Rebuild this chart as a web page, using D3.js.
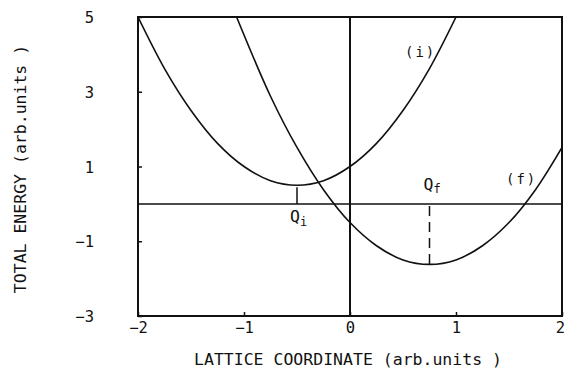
<!DOCTYPE html>
<html>
<head>
<meta charset="utf-8">
<script src="https://cdn.jsdelivr.net/npm/d3@7/dist/d3.min.js"></script>
<style>
  html, body { margin: 0; padding: 0; background: #fff; }
  svg { display: block; }
  text { font-family: "DejaVu Sans Mono", "Liberation Mono", monospace; fill: #111; }
</style>
</head>
<body>
<svg id="chart" width="564" height="371"></svg>
<script>
// Energy curves of the initial (i) and final (f) states vs lattice coordinate
const curveIX = [-2, -1.75, -1.5, -1.25, -1, -0.75, -0.5, -0.25, 0, 0.25, 0.5, 0.75, 1];
const curveIY = [5, 3.62, 2.5, 1.62, 1.0, 0.62, 0.5, 0.62, 1.0, 1.62, 2.5, 3.62, 5];

const curveFX = [-1.07, -0.75, -0.5, -0.25, 0, 0.25, 0.5, 0.75, 1.0, 1.25, 1.5, 1.75, 2.0];
const curveFY = [5.0, 2.88, 1.51, 0.38, -0.5, -1.12, -1.5, -1.62, -1.5, -1.12, -0.5, 0.38, 1.51];

// Equilibrium coordinates and their energies
const qiPoint = [-0.5, 0.5];
const qfPoint = [0.75, -1.62];

const xTicks = [-2, -1, 0, 1, 2];
const yTicks = [5, 3, 1, -1, -3];

const xTitle = "LATTICE COORDINATE (arb.units )";
const yTitle = "TOTAL ENERGY (arb.units )";

const svg = d3.select("#chart");
const ink = "#111";

const x = d3.scaleLinear().domain([-2, 2]).range([138, 562]);
const y = d3.scaleLinear().domain([-3, 5]).range([316, 17]);

// clip for the curves
svg.append("defs").append("clipPath").attr("id", "plotClip")
  .append("rect")
  .attr("x", x(-2)).attr("y", y(5))
  .attr("width", x(2) - x(-2)).attr("height", y(-3) - y(5));

// axes (ticks point inward, labels outside)
const yAxis = d3.axisLeft(y).tickValues(yTicks).tickSizeInner(-4).tickSizeOuter(0)
  .tickPadding(44).tickFormat(d3.format("d"));
const gy = svg.append("g").attr("transform", `translate(${x(-2)},0)`).call(yAxis);
gy.select(".domain").remove();
gy.selectAll("line").attr("stroke", ink).attr("stroke-width", 1.5);
gy.selectAll("text").attr("font-size", 15.5).attr("fill", ink)
  .attr("font-family", '"DejaVu Sans Mono", monospace')
  .attr("dy", "0.36em").attr("text-anchor", "end");

const xAxis = d3.axisBottom(x).tickValues(xTicks).tickSizeInner(-4).tickSizeOuter(0)
  .tickPadding(6).tickFormat(d3.format("d"));
const gx = svg.append("g").attr("transform", `translate(0,${y(-3)})`).call(xAxis);
gx.select(".domain").remove();
gx.selectAll("line").attr("stroke", ink).attr("stroke-width", 1.5);
gx.selectAll("text").attr("font-size", 15.5).attr("fill", ink)
  .attr("font-family", '"DejaVu Sans Mono", monospace');
// keep the last label inside the page
gx.selectAll(".tick").filter(d => d === 2).select("text").attr("dx", -2);

// reference lines: E = 0 and coordinate = 0
svg.append("line")
  .attr("x1", x(-2)).attr("x2", x(2)).attr("y1", y(0)).attr("y2", y(0))
  .attr("stroke", ink).attr("stroke-width", 1.5);
svg.append("line")
  .attr("x1", x(0)).attr("x2", x(0)).attr("y1", y(5)).attr("y2", y(-3))
  .attr("stroke", ink).attr("stroke-width", 2);

// energy curves
const line = d3.line().x(d => x(d[0])).y(d => y(d[1])).curve(d3.curveCatmullRom.alpha(0.5));
const plot = svg.append("g").attr("clip-path", "url(#plotClip)");
plot.append("path").datum(d3.zip(curveIX, curveIY))
  .attr("d", line).attr("fill", "none").attr("stroke", ink).attr("stroke-width", 1.6);
plot.append("path").datum(d3.zip(curveFX, curveFY))
  .attr("d", line).attr("fill", "none").attr("stroke", ink).attr("stroke-width", 1.6);

// dashed drops from each minimum to the E = 0 line
svg.append("line")
  .attr("x1", x(qiPoint[0])).attr("x2", x(qiPoint[0]))
  .attr("y1", y(qiPoint[1]) + 2).attr("y2", y(0))
  .attr("stroke", ink).attr("stroke-width", 1.5);
svg.append("line")
  .attr("x1", x(qfPoint[0])).attr("x2", x(qfPoint[0]))
  .attr("y1", y(0) + 2).attr("y2", y(qfPoint[1]))
  .attr("stroke", ink).attr("stroke-width", 1.5)
  .attr("stroke-dasharray", "10,6");

// frame
svg.append("rect")
  .attr("x", x(-2)).attr("y", y(5))
  .attr("width", x(2) - x(-2)).attr("height", y(-3) - y(5))
  .attr("fill", "none").attr("stroke", ink).attr("stroke-width", 2);

// point labels
const qi = svg.append("text").attr("x", x(qiPoint[0]) - 7).attr("y", y(0) + 18)
  .attr("font-size", 16.5);
qi.append("tspan").text("Q");
qi.append("tspan").attr("font-size", 12).attr("dy", 4).text("i");

const qf = svg.append("text").attr("x", x(qfPoint[0]) - 6).attr("y", y(0) - 14)
  .attr("font-size", 16.5);
qf.append("tspan").text("Q");
qf.append("tspan").attr("font-size", 12).attr("dy", 3).text("f");

svg.append("text").attr("x", 405).attr("y", 57).attr("font-size", 14)
  .attr("letter-spacing", 2).text("(i)");
svg.append("text").attr("x", 506).attr("y", 184).attr("font-size", 14)
  .attr("letter-spacing", 2).text("(f)");

// axis titles
svg.append("text").attr("x", (x(-2) + x(2)) / 2 - 2).attr("y", 365)
  .attr("text-anchor", "middle").attr("font-size", 16.5).text(xTitle);
svg.append("text")
  .attr("transform", `translate(26,169) rotate(-90)`)
  .attr("text-anchor", "middle").attr("font-size", 16.5)
  .text(yTitle);
</script>
</body>
</html>
